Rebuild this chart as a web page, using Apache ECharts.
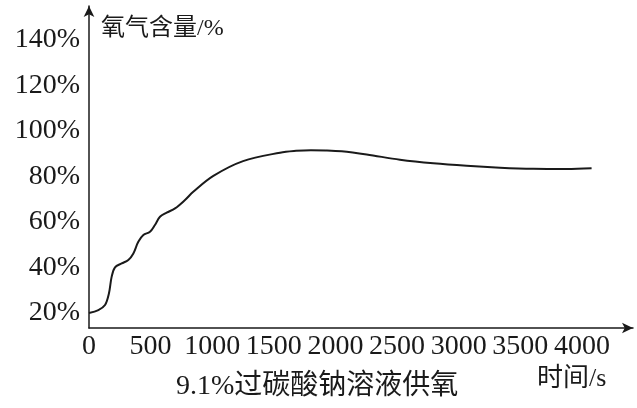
<!DOCTYPE html>
<html>
<head>
<meta charset="utf-8">
<script src="https://cdn.jsdelivr.net/npm/echarts@6/dist/echarts.min.js"></script>
<style>html,body{margin:0;padding:0;background:#fff;}#c{width:637px;height:408px;}</style>
</head>
<body>
<div id="c"></div>
<script>
const timeS = [0,76,130,162,184,211,265,319,360,400,441,495,535,576,630,698,779,846,1009,1250,1550,1680,1800,1920,2050,2253,2523,2794,3064,3335,3605,3876,4078];
const oxygen = [20,21.3,23.5,28.7,36,40.1,41.8,43.3,46.2,51.3,54.3,55.7,58.7,62.3,64.1,66,69.7,73.3,80.3,86.8,90.5,91.3,91.6,91.5,91.1,89.7,87.4,85.8,84.7,83.9,83.4,83.3,83.6];
const xTicks = [0,500,1000,1500,2000,2500,3000,3500,4000];
const yTicks = [20,40,60,80,100,120,140];
const yName = '氧气含量/%';
const xName = '时间/s';
const caption = '9.1%过碳酸钠溶液供氧';

const serif = '"Liberation Serif","Noto Sans CJK SC",serif';
const cjk = '"Liberation Serif","Noto Sans CJK SC",sans-serif';
const ink = '#1a1a1a';

const chart = echarts.init(document.getElementById('c'), null, {renderer:'canvas'});
chart.setOption({
  backgroundColor:'#fff',
  animation:false,
  title:[
    {text:yName, left:101, top:17, padding:0, textStyle:{fontSize:24, fontWeight:'normal', color:ink, fontFamily:cjk}},
    {text:xName, left:537, top:366, padding:0, textStyle:{fontSize:26, fontWeight:'normal', color:ink, fontFamily:cjk}},
    {text:caption, left:176, top:373, padding:0, textStyle:{fontSize:28, fontWeight:'normal', color:ink, fontFamily:cjk}}
  ],
  grid:{left:89, right:4, top:6, bottom:80, containLabel:false},
  xAxis:{
    type:'value', min:0, max:4414,
    axisLine:{show:true, symbol:['none','arrow'], symbolSize:[8,11], lineStyle:{color:ink, width:1.5}},
    axisTick:{show:false},
    splitLine:{show:false},
    axisLabel:{customValues:xTicks, margin:5, fontSize:28, color:ink, fontFamily:serif, formatter:(v)=>String(v)}
  },
  yAxis:{
    type:'value', min:13.4, max:155,
    axisLine:{show:true, symbol:['none','arrow'], symbolSize:[8,11], lineStyle:{color:ink, width:1.5}},
    axisTick:{show:false},
    splitLine:{show:false},
    axisLabel:{customValues:yTicks, margin:9, fontSize:28, color:ink, fontFamily:serif, formatter:(v)=>v+'%'}
  },
  series:[{
    type:'line', data:timeS.map((t,i)=>[t, oxygen[i]]),
    smooth:0.35, showSymbol:false, symbol:'none',
    lineStyle:{color:ink, width:2}
  }]
});
</script>
</body>
</html>
